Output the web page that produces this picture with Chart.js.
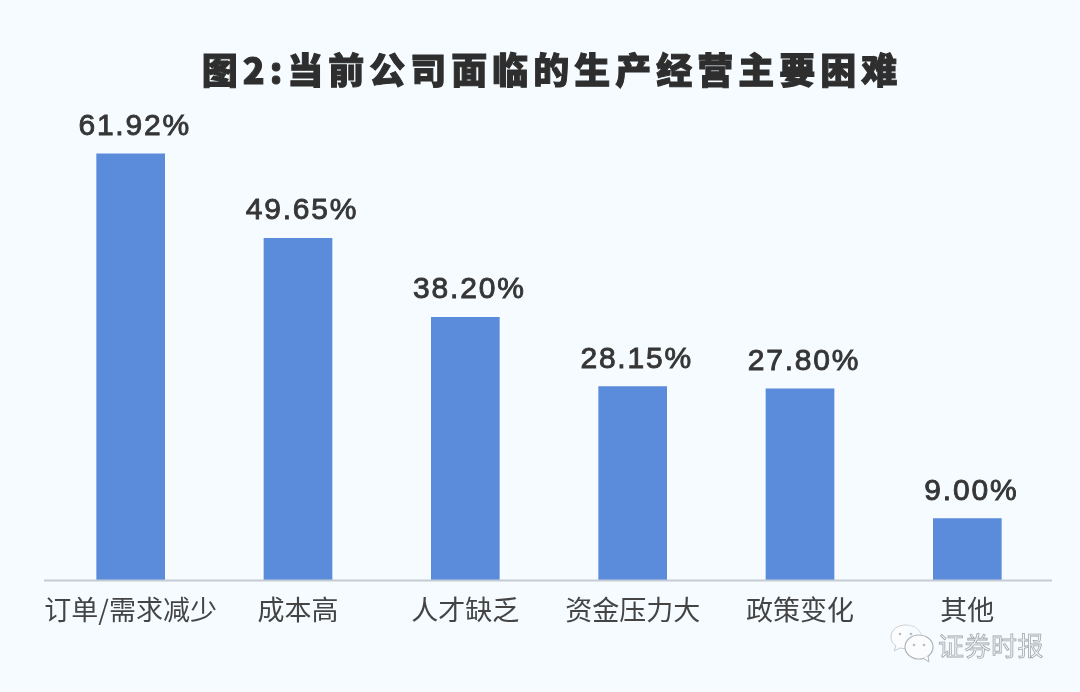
<!DOCTYPE html>
<html lang="zh">
<head>
<meta charset="utf-8">
<title>图2:当前公司面临的生产经营主要困难</title>
<script src="https://cdn.jsdelivr.net/npm/chart.js@4"></script>
<style>
  html, body { margin: 0; padding: 0; background: #f5fbff; }
  #wrap { position: relative; width: 1080px; height: 692px; overflow: hidden; }
  #wrap canvas { position: absolute; left: 0; top: 0; }
  #wechatIcon { position: absolute; left: 886px; top: 622px; }
  #wechatName {
    position: absolute; left: 938px; top: 626px;
    font: 400 26px "Noto Sans CJK SC", sans-serif; line-height: 38px; letter-spacing: 0.5px;
    color: #f4f7fa; -webkit-text-stroke: 0.8px #a3a8ad;
  }
</style>
</head>
<body>
<div id="wrap">
  <canvas id="barChart" width="1080" height="692"></canvas>
  <svg id="wechatIcon" width="50" height="42" viewBox="0 0 50 42">
    <path d="M20 3c-9 0-15 5-15 12 0 4 2 7 5 9l-2 5 6-3c2 .5 4 .6 6 .6" fill="#fbfcfd" stroke="#c9cdd1" stroke-width="1"/>
    <path d="M20 3c8 0 13 4 15 9" fill="none" stroke="#d5d8db" stroke-width="1"/>
    <ellipse cx="33" cy="25" rx="14" ry="12" fill="#fbfcfd" stroke="#b0b5ba" stroke-width="1.2"/>
    <path d="M37 36l6 4-1-6" fill="#fbfcfd" stroke="#b0b5ba" stroke-width="1"/>
    <circle cx="14" cy="12" r="1.3" fill="#b8bcc0"/><circle cx="25" cy="12" r="1.3" fill="#b8bcc0"/>
    <circle cx="28" cy="23" r="1.3" fill="#b8bcc0"/><circle cx="38" cy="23" r="1.3" fill="#b8bcc0"/>
  </svg>
  <div id="wechatName">证券时报</div>
</div>
<script>
const titulo = '图2:当前公司面临的生产经营主要困难';
const categorias = ['订单/需求减少', '成本高', '人才缺乏', '资金压力大', '政策变化', '其他'];
const valores = [61.92, 49.65, 38.20, 28.15, 27.80, 9.00];
const etiquetas = ['61.92%', '49.65%', '38.20%', '28.15%', '27.80%', '9.00%'];

// title, value labels and the slightly overhanging axis line
const textosPlugin = {
  id: 'textos',
  afterDatasetsDraw(chart) {
    const { ctx, chartArea } = chart;
    const base = chart.scales.y.getPixelForValue(0);

    ctx.save();
    ctx.strokeStyle = '#c4cbd3';
    ctx.lineWidth = 2;
    ctx.beginPath();
    ctx.moveTo(chartArea.left - 3, base);
    ctx.lineTo(chartArea.right + 1, base);
    ctx.stroke();

    ctx.textAlign = 'center';
    ctx.textBaseline = 'alphabetic';
    ctx.fillStyle = '#363636';
    ctx.strokeStyle = '#363636';
    ctx.lineWidth = 0.9;
    ctx.font = '400 30px "Liberation Sans", sans-serif';
    ctx.letterSpacing = '1.8px';
    chart.getDatasetMeta(0).data.forEach((bar, i) => {
      ctx.fillText(etiquetas[i], bar.x + 4, bar.y - 19);
      ctx.strokeText(etiquetas[i], bar.x + 4, bar.y - 19);
    });

    ctx.font = '900 36px "Noto Sans CJK SC", sans-serif';
    ctx.letterSpacing = '5px';
    ctx.fillStyle = '#2e2e2e';
    ctx.strokeStyle = '#2e2e2e';
    ctx.lineWidth = 1;
    ctx.fillText(titulo, 552, 84);
    ctx.strokeText(titulo, 552, 84);
    ctx.restore();
  }
};

new Chart(document.getElementById('barChart'), {
  type: 'bar',
  data: {
    labels: categorias,
    datasets: [{
      data: valores,
      backgroundColor: '#5b8bdb',
      barThickness: 68
    }]
  },
  options: {
    responsive: false,
    animation: false,
    layout: { padding: { left: 47, right: 29, top: 98, bottom: 61 } },
    plugins: { legend: { display: false }, tooltip: { enabled: false } },
    scales: {
      x: {
        grid: { display: false },
        border: { display: false },
        ticks: {
          color: '#444444',
          font: { family: '"Noto Sans CJK SC", sans-serif', size: 27 },
          padding: 5,
          maxRotation: 0,
          autoSkip: false
        }
      },
      y: { display: false, min: 0, max: 70 }
    }
  },
  plugins: [textosPlugin]
});
</script>
</body>
</html>
